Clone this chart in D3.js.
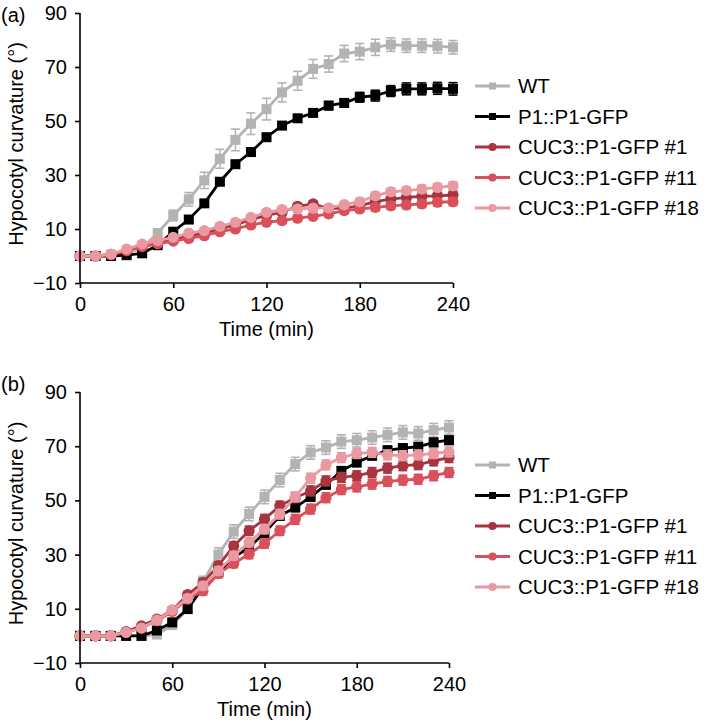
<!DOCTYPE html>
<html><head><meta charset="utf-8">
<script src="https://cdn.jsdelivr.net/npm/d3@7"></script>
<style>body{margin:0;background:#fff}svg{display:block}text{font-family:"Liberation Sans",Arial,Helvetica,sans-serif;fill:#000}</style>
</head><body>
<script>
const times = [0,10,20,30,40,50,60,70,80,90,100,110,120,130,140,150,160,170,180,190,200,210,220,230,240];
const seriesNames = ["WT","P1::P1-GFP","CUC3::P1-GFP #1","CUC3::P1-GFP #11","CUC3::P1-GFP #18"];
const seriesColors = ["#b3b3b3","#000000","#a93440","#d94f5a","#e9999f"];
const seriesShapes = ["square","square","circle","circle","circle"];
const yTicks = [-10,10,30,50,70,90];
const xTicks = [0,60,120,180,240];

// Panel (a)
const aWT   = [0,0,0.5,1,3,8.5,15,21,28,36,43,49,54.4,60.6,64.9,69.3,71.1,75,75.7,77.3,78.3,77.9,77.9,77.7,77.3];
const aP1   = [0,0,0,0.3,1,4,9,13.5,19.5,27.5,34,38.5,44,48.3,51,53,55.7,56.7,58.8,59.4,61.1,61.9,61.9,62.1,61.9];
const aC1   = [0,0,0.5,2,3.8,5,6,7.5,8.5,10,11.5,13.5,15,16.2,18.4,19.3,17.6,17.7,18.6,20.1,21.1,21.7,22.1,22.3,22.6];
const aC11  = [0,0,0.5,2,3.5,4.5,5.5,6.5,7.5,9,10,11.5,12.5,13.1,14,14.7,15.6,16.8,17.4,18,18.6,18.9,19.3,19.9,20.1];
const aC18  = [0,0,0.7,2.6,4.4,5.7,6.9,8.5,9.4,11,12.5,14.3,16.2,17.2,17.4,17.7,17.8,19,20.1,22.3,23.8,24.2,24.8,25.4,26];
const aErrWT  = [0,0,0.3,0.5,1,1.5,2,2.5,3,3.5,4,4,4,3.5,3.5,3.5,3,3,3,3,2.5,2.5,2.5,2.5,2.5];
const aErrP1  = [0,0,0,0.2,0.5,0.8,1,1,1,1.2,1.2,1.2,1.3,1.3,1.3,1.3,1.5,1.5,1.8,2,2,2.2,2.2,2.2,2.3];
const aErrC1  = [0,0,0.2,0.3,0.5,0.6,0.7,0.8,0.8,0.9,1,1,1,1,1.1,1.1,1.2,1.2,1.2,1.3,1.3,1.3,1.4,1.4,1.4];
const aErrC11 = [0,0,0.2,0.3,0.5,0.6,0.7,0.8,0.8,0.9,1,1,1,1,1.1,1.1,1.2,1.2,1.2,1.3,1.3,1.3,1.4,1.4,1.4];
const aErrC18 = [0,0,0.2,0.3,0.5,0.6,0.7,0.8,0.8,0.9,1,1,1,1,1.1,1.1,1.2,1.2,1.2,1.3,1.3,1.3,1.4,1.4,1.4];

// Panel (b)
const bWT   = [0,0,0,0,0,0.5,4,10,20,30,38.5,45,51.3,57.5,63.4,67.7,69.5,71.7,72.2,73.2,74.2,75.1,74.7,75.9,76.9];
const bP1   = [0,0,0,0,0,2,5,9.9,17.9,23.4,29,32.6,38,44.3,47.4,51.3,55.8,60.9,64,66.5,68.5,69.3,69.8,71.4,72.2];
const bC1   = [0,0,0,1.6,3.7,6.2,9.5,15.2,19.7,25.9,33.2,38.8,43.1,48,51,53.5,57.2,58.5,59.1,60.3,61.9,62.8,63.2,64.6,65.8];
const bC11  = [0,0,0,1.3,2.9,5.6,9,13.6,16.6,23,26.7,30.2,34.1,38.8,43,46.8,51,54,55,56,57,57.5,57.8,59.1,60.3];
const bC18  = [0,0,0,1.3,2.9,5.8,9.5,13.9,18.5,24,29.6,34.5,39.4,44.9,51.3,58.2,63.1,65.8,67.3,67.7,66.8,66.5,66.8,67.3,67.9];
const bErrWT  = [0,0,0,0,0,0.5,1,1.5,2,2.5,2.5,2.5,2.5,2.5,2.5,2.5,2.5,2.5,2.5,2.5,2.5,2.5,2.5,2.5,2.5];
const bErrP1  = [0,0,0,0,0,0.5,1,1,1.2,1.3,1.5,1.5,1.5,1.5,1.5,1.5,1.5,1.5,1.5,1.5,1.5,1.5,1.5,1.5,1.5];
const bErrC1  = [0,0,0,0.3,0.5,0.8,1,1.2,1.5,1.5,1.5,1.7,1.7,1.7,1.8,1.8,1.8,1.8,1.8,1.8,1.8,1.8,1.8,1.8,1.8];
const bErrC11 = [0,0,0,0.3,0.5,0.8,1,1.2,1.5,1.5,1.5,1.7,1.7,1.7,1.8,1.8,1.8,1.8,1.8,1.8,1.8,1.8,1.8,1.8,1.8];
const bErrC18 = [0,0,0,0.3,0.5,0.8,1,1.2,1.5,1.5,1.5,1.7,1.7,1.7,1.8,1.8,1.8,1.8,1.8,1.8,1.8,1.8,1.8,1.8,1.8];

const W = 709, H = 727;
const svg = d3.select("body").append("svg").attr("width", W).attr("height", H);

const panels = [
  {label:"(a)", labelY:22, x0:80, x1:453, yTop:13, yBot:283, legendY:86,
   values:[aWT,aP1,aC1,aC11,aC18], errs:[aErrWT,aErrP1,aErrC1,aErrC11,aErrC18]},
  {label:"(b)", labelY:391, x0:80, x1:449, yTop:392, yBot:663, legendY:465,
   values:[bWT,bP1,bC1,bC11,bC18], errs:[bErrWT,bErrP1,bErrC1,bErrC11,bErrC18]}
];

function marker(g, shape, x, y, color, s) {
  if (shape === "square") {
    g.append("rect").attr("x", x - s/2).attr("y", y - s/2).attr("width", s).attr("height", s).attr("fill", color);
  } else {
    g.append("circle").attr("cx", x).attr("cy", y).attr("r", s/2 + 0.6).attr("fill", color);
  }
}

panels.forEach(p => {
  const x = d3.scaleLinear().domain([0,240]).range([p.x0, p.x1]);
  const y = d3.scaleLinear().domain([-10,90]).range([p.yBot, p.yTop]);
  const g = svg.append("g");

  p.values.forEach((vals, si) => {
    const col = seriesColors[si];
    const sg = g.append("g");
    const errs = p.errs[si];
    times.forEach((t, i) => {
      const e = errs[i];
      if (e <= 0) return;
      const cx = x(t);
      sg.append("line").attr("x1", cx).attr("x2", cx).attr("y1", y(vals[i]-e)).attr("y2", y(vals[i]+e))
        .attr("stroke", col).attr("stroke-width", 1.5);
      [vals[i]-e, vals[i]+e].forEach(v => sg.append("line").attr("x1", cx-4.5).attr("x2", cx+4.5)
        .attr("y1", y(v)).attr("y2", y(v)).attr("stroke", col).attr("stroke-width", 1.6));
    });
    const line = d3.line().x((d,i) => x(times[i])).y(d => y(d));
    sg.append("path").datum(vals).attr("d", line).attr("fill","none").attr("stroke", col).attr("stroke-width", 2.8);
    times.forEach((t, i) => marker(sg, seriesShapes[si], x(t), y(vals[i]), col, 10));
  });

  const yAxis = d3.axisLeft(y).tickValues(yTicks).tickSize(5).tickPadding(8).tickFormat(d => d < 0 ? "\u2212" + Math.abs(d) : d);
  const ya = g.append("g").attr("transform", `translate(${p.x0},0)`).call(yAxis);
  const xAxis = d3.axisBottom(x).tickValues(xTicks).tickSize(5).tickPadding(9);
  const xa = g.append("g").attr("transform", `translate(0,${p.yBot})`).call(xAxis);
  [ya, xa].forEach(a => {
    a.select(".domain").attr("stroke","#000").attr("stroke-width",1.6);
    a.selectAll(".tick line").attr("stroke","#000").attr("stroke-width",1.6);
    a.selectAll("text").style("font-size","20px").attr("fill","#000").style("font-family","Liberation Sans, Arial, sans-serif");
  });
  ya.select(".domain").attr("d", `M0,${p.yTop}V${p.yBot}`);
  xa.select(".domain").attr("d", `M${p.x0},0H${p.x1}`);

  g.append("text").attr("x", (p.x0 + p.x1)/2).attr("y", p.yBot + 53).attr("text-anchor","middle")
    .style("font-size","20px").text("Time (min)");
  g.append("text").attr("transform", `translate(23,${(p.yTop+p.yBot)/2 - 4}) rotate(-90)`).attr("text-anchor","middle")
    .style("font-size","20px").text("Hypocotyl curvature (\u00b0)");
  g.append("text").attr("x", 1).attr("y", p.labelY).style("font-size","20px").text(p.label);

  const lg = g.append("g");
  seriesNames.forEach((name, si) => {
    const ly = p.legendY + si * 30.5;
    lg.append("line").attr("x1", 475).attr("x2", 510).attr("y1", ly).attr("y2", ly)
      .attr("stroke", seriesColors[si]).attr("stroke-width", 2.8);
    marker(lg, seriesShapes[si], 492.5, ly, seriesColors[si], 7);
    lg.append("text").attr("x", 518).attr("y", ly + 7).style("font-size","20.5px").text(name);
  });
});
</script>
</body></html>
